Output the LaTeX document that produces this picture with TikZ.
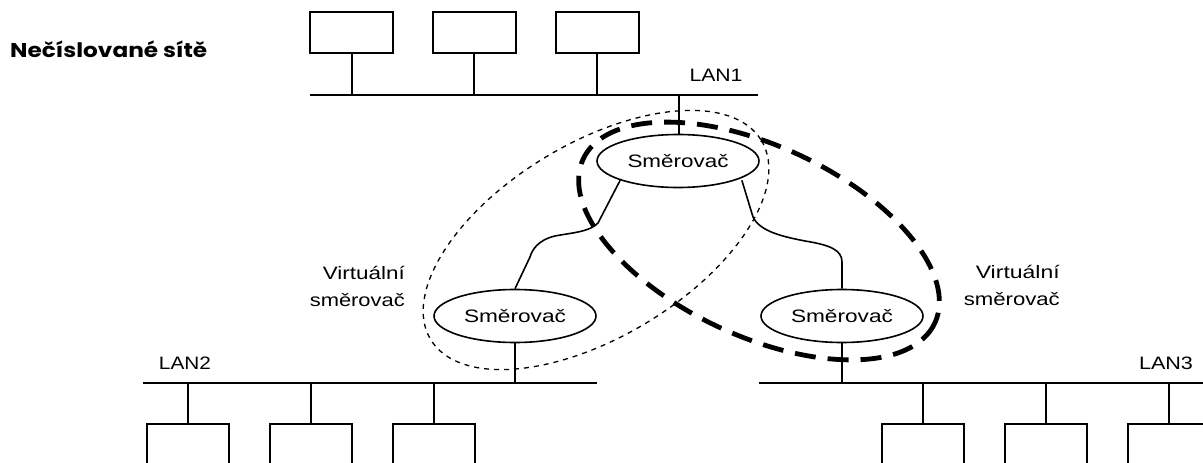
\documentclass[tikz,border=0pt]{standalone}
\usepackage{fontspec}
\setmainfont{Liberation Sans}
\newfontfamily\lblfont{Liberation Sans}
\newfontfamily\titlefont{Poppins}
\newcommand{\fitw}[2]{\resizebox{#1}{\height}{#2}}
\usetikzlibrary{shapes.geometric}
\begin{document}
\begin{tikzpicture}[x=1pt,y=-1pt,
  line/.style={line width=2pt},
  host/.style={draw,line width=2pt,rectangle,minimum width=83pt,minimum height=41pt,inner sep=0pt},
  lowhost/.style={draw,line width=2pt,rectangle,minimum width=82pt,minimum height=60pt,inner sep=0pt},
  router/.style={draw,line width=1.6pt,ellipse,minimum width=162pt,minimum height=53pt,inner sep=0pt,font=\lblfont\fontsize{18}{22}\selectfont},
  lbl/.style={inner sep=0pt,font=\lblfont\fontsize{18}{22}\selectfont},
  vlbl/.style={inner sep=0pt,font=\lblfont\fontsize{18}{27}\selectfont},
  thindash/.style={line width=1.3pt,dash pattern=on 5pt off 5pt},
  thickdash/.style={line width=4.8pt,dash pattern=on 21pt off 12pt},
  wire/.style={line width=1.6pt}]
\useasboundingbox (0,0) rectangle (1203,463);
\clip (0,0) rectangle (1203,463);
\fill[white] (0,0) rectangle (1203,463);

% title
\node[anchor=base west,inner sep=0pt,font=\titlefont\bfseries\fontsize{20}{24}\selectfont] (title) at (10,57) {\fitw{197pt}{Nečíslované sítě}};

% LAN lines
\coordinate (l1a) at (310,95); \coordinate (l1b) at (758,95);
\coordinate (l2a) at (143,383); \coordinate (l2b) at (597,383);
\coordinate (l3a) at (759,383); \coordinate (l3b) at (1210,383);
\draw[line] (l1a) -- (l1b);
\draw[line] (l2a) -- (l2b);
\draw[line] (l3a) -- (l3b);

\node[lbl] (lan1) at (716,75) {\fitw{53pt}{LAN1}};
\node[lbl] (lan2) at (185,363) {\fitw{52pt}{LAN2}};
\node[lbl] (lan3) at (1166,363) {\fitw{54pt}{LAN3}};

% top hosts
\node[host] (h1) at (351.5,32.5) {};
\node[host] (h2) at (474,32.5) {};
\node[host] (h3) at (597,32.5) {};
\foreach \h in {h1,h2,h3} \draw[line] (\h.south) -- (\h.south |- l1a);

% bottom hosts
\node[lowhost] (b1) at (188,454) {};
\node[lowhost] (b2) at (311,454) {};
\node[lowhost] (b3) at (434,454) {};
\node[lowhost] (b4) at (923,454) {};
\node[lowhost] (b5) at (1046,454) {};
\node[lowhost] (b6) at (1169,454) {};
\foreach \h in {b1,b2,b3} \draw[line] (\h.north) -- (\h.north |- l2a);
\foreach \h in {b4,b5,b6} \draw[line] (\h.north) -- (\h.north |- l3a);

% routers
\node[router] (r1) at (678,161) {\fitw{101pt}{Směrovač}};
\node[router] (r2) at (515,316) {\fitw{102pt}{Směrovač}};
\node[router] (r3) at (842,316) {\fitw{102pt}{Směrovač}};

\coordinate (t1) at (679,95);
\coordinate (t2) at (515,383);
\coordinate (t3) at (842,383);
\draw[line] (t1) -- (t1 |- r1.north);
\draw[line] (r2.south) -- (t2);
\draw[line] (r3.south) -- (t3);

% curvy links
\draw[wire] (r1.south west) -- (598,223) .. controls (590,232) and (570,233) .. (555,236)
  .. controls (538,240) and (532,250) .. (530,257) -- (r2.north);
\draw[wire] ([xshift=6pt]r1.south east) -- (753,217) .. controls (760,232) and (785,237) .. (805,241)
  .. controls (830,245) and (842,250) .. (842,262) -- (r3.north);

% virtual router outlines
\draw[thindash] (596,240) ellipse [x radius=193, y radius=97, rotate=31];
\draw[thickdash] (759,241) ellipse [x radius=194, y radius=95, rotate=-25];

\node[vlbl,anchor=east] (v1) at (405,288) {\begin{tabular}{@{}r@{}}\fitw{82pt}{Virtuální}\\\fitw{95pt}{směrovač}\end{tabular}};
\node[vlbl,anchor=east] (v2) at (1060,287) {\begin{tabular}{@{}r@{}}\fitw{84pt}{Virtuální}\\\fitw{96pt}{směrovač}\end{tabular}};
\end{tikzpicture}
\end{document}
